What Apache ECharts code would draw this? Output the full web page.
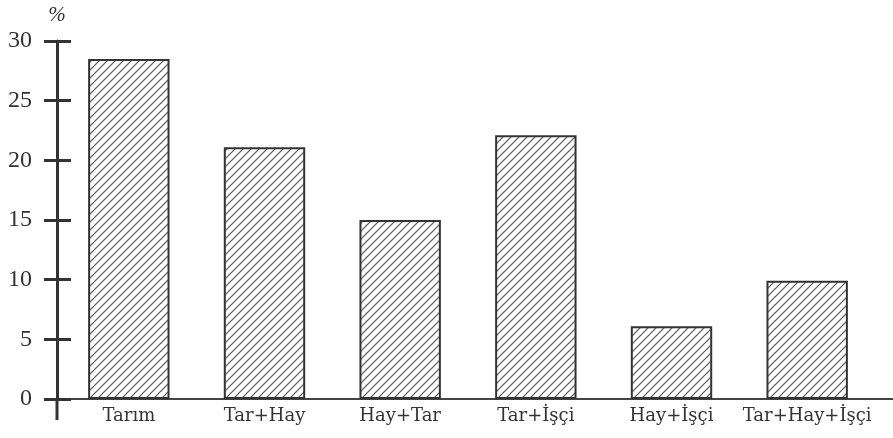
<!DOCTYPE html>
<html>
<head>
<meta charset="utf-8">
<script src="https://cdn.jsdelivr.net/npm/echarts@6/dist/echarts.min.js"></script>
<style>
  html, body { margin: 0; padding: 0; background: #fff; }
  #chart_main { width: 893px; height: 438px; }
</style>
</head>
<body>
<div id="chart_main"></div>
<script type="text/javascript">
// categories and values (%)
var categories = ['Tarım', 'Tar+Hay', 'Hay+Tar', 'Tar+İşçi', 'Hay+İşçi', 'Tar+Hay+İşçi'];
var values = [28.5, 21.1, 15.0, 22.1, 6.1, 9.9];
var yTicks = [0, 5, 10, 15, 20, 25, 30];

var ink = '#333';
var font = '"Liberation Serif", "DejaVu Serif", serif';

// diagonal hatch pattern
function hatch() {
    var s = 8;
    var c = document.createElement('canvas');
    c.width = s; c.height = s;
    var g = c.getContext('2d');
    g.fillStyle = '#fff';
    g.fillRect(0, 0, s, s);
    g.strokeStyle = '#555';
    g.lineWidth = 1.2;
    g.beginPath();
    g.moveTo(-1, s + 1); g.lineTo(s + 1, -1);
    g.moveTo(-1, 1); g.lineTo(1, -1);
    g.moveTo(s - 1, s + 1); g.lineTo(s + 1, s - 1);
    g.stroke();
    return c;
}

var myChart = echarts.init(document.getElementById('chart_main'));
var yMax = yTicks[yTicks.length - 1];
var step = yTicks[1] - yTicks[0];

var option = {
    animation: false,
    grid: { left: 61, right: 18, top: 41, bottom: 39 },
    xAxis: {
        type: 'category',
        data: categories,
        axisLine: { lineStyle: { color: '#444', width: 2 } },
        axisTick: { show: false },
        axisLabel: { interval: 0, color: ink, fontFamily: '"DejaVu Serif", serif', fontSize: 18, margin: 8 }
    },
    yAxis: [{
        type: 'value',
        min: 0, max: yMax, interval: step,
        offset: 4,
        name: '%',
        nameLocation: 'end',
        nameGap: 15,
        nameTextStyle: { color: ink, fontFamily: font, fontSize: 21, fontStyle: 'italic', align: 'center' },
        splitLine: { show: false },
        axisLine: { show: true, lineStyle: { color: ink, width: 3 } },
        axisTick: { show: true, length: 13, lineStyle: { color: ink, width: 3 } },
        axisLabel: { color: ink, fontFamily: font, fontSize: 24, margin: 25 }
    }, {
        type: 'value',
        position: 'left',
        offset: 4,
        min: 0, max: yMax, interval: step,
        splitLine: { show: false },
        axisLine: { show: false },
        axisTick: { show: true, inside: true, length: 14, lineStyle: { color: ink, width: 3 } },
        axisLabel: { show: false }
    }],
    series: [{
        type: 'bar',
        data: values,
        barWidth: '60%',
        itemStyle: {
            color: { image: hatch(), repeat: 'repeat' },
            borderColor: ink,
            borderWidth: 2
        }
    }]
};
myChart.setOption(option);

// extend axis lines beyond the grid, as in the original
var p0 = myChart.convertToPixel({ yAxisIndex: 0 }, 0);
var rect = myChart.getModel().getComponent('grid').coordinateSystem.getRect();
var ax = rect.x - 4;
myChart.setOption({
    graphic: [{
        type: 'line',
        shape: { x1: ax, y1: p0, x2: ax, y2: p0 + 21 },
        style: { stroke: ink, lineWidth: 3 }
    }, {
        type: 'line',
        shape: { x1: ax - 13, y1: p0, x2: rect.x, y2: p0 },
        style: { stroke: '#444', lineWidth: 2 }
    }, {
        type: 'line',
        shape: { x1: rect.x + rect.width, y1: p0, x2: 893, y2: p0 },
        style: { stroke: '#444', lineWidth: 2 }
    }]
});
</script>
</body>
</html>
